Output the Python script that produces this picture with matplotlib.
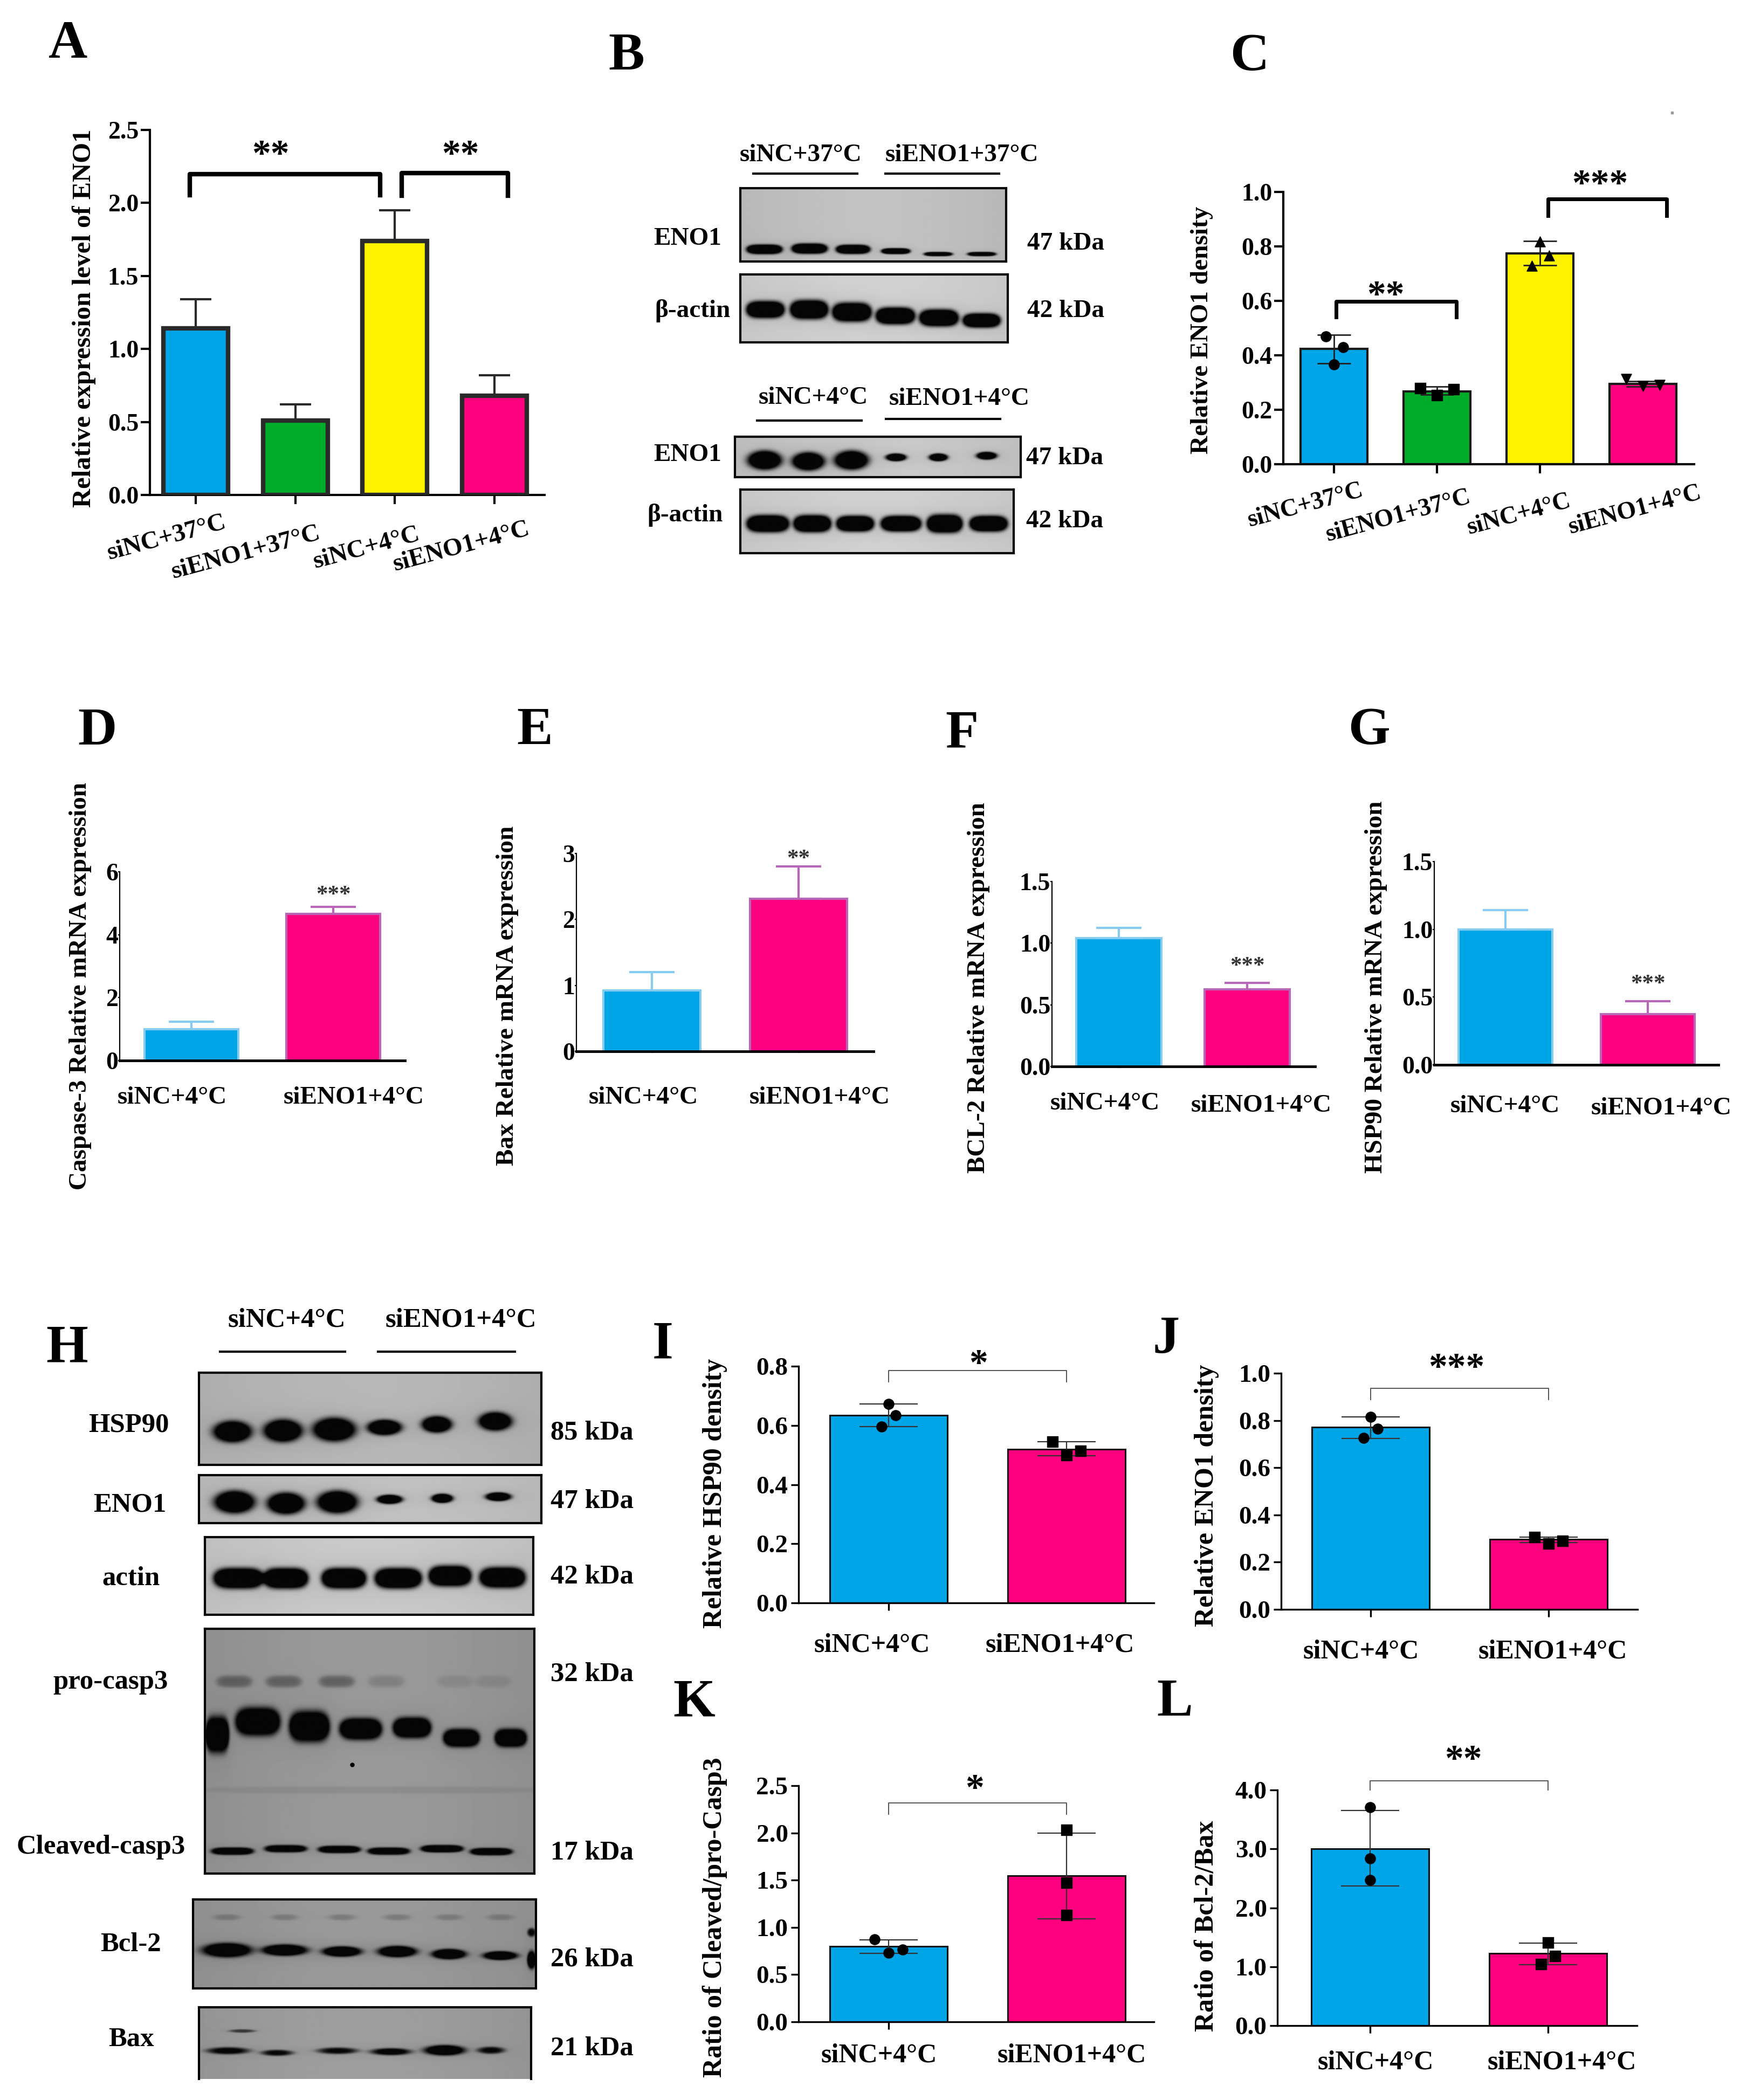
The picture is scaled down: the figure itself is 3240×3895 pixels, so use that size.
import numpy as np
import matplotlib
matplotlib.use('Agg')
import matplotlib.pyplot as plt

W, H = 3241, 3895
plt.rcParams['font.family'] = ['Liberation Serif', 'DejaVu Serif']
plt.rcParams['font.weight'] = 'bold'

BLUE, GREEN, YELLOW, PINK = '#00a5e8', '#00ad2a', '#fff200', '#ff007f'

# bar panels
a_labels = ['siNC+37°C', 'siENO1+37°C', 'siNC+4°C', 'siENO1+4°C']
a_means = [1.14, 0.51, 1.74, 0.68]
a_upper = [1.34, 0.62, 1.95, 0.82]

c_means = [0.423, 0.268, 0.774, 0.295]
c_lower = [0.37, 0.255, 0.73, 0.285]
c_upper = [0.475, 0.285, 0.82, 0.305]
c_points = [[0.47, 0.43, 0.367], [0.28, 0.254, 0.275], [0.818, 0.767, 0.728], [0.312, 0.288, 0.291]]

two_labels = ['siNC+4°C', 'siENO1+4°C']
d_means, d_upper = [1.0, 4.66], [1.23, 4.88]
e_means, e_upper = [0.925, 2.315], [1.2, 2.8]
f_means, f_upper = [1.04, 0.625], [1.126, 0.676]
g_means, g_upper = [1.0, 0.373], [1.14, 0.468]

i_means, i_lower, i_upper = [0.634, 0.52], [0.596, 0.497], [0.673, 0.545]
i_points = [[0.673, 0.634, 0.596], [0.545, 0.50, 0.513]]
j_means, j_lower, j_upper = [0.771, 0.296], [0.723, 0.282], [0.815, 0.307]
j_points = [[0.815, 0.765, 0.725], [0.305, 0.279, 0.29]]
k_means, k_lower, k_upper = [0.80, 1.545], [0.725, 1.09], [0.87, 2.0]
k_points = [[0.872, 0.73, 0.767], [2.03, 1.47, 1.13]]
l_means, l_lower, l_upper = [3.0, 1.224], [2.37, 1.03], [3.65, 1.4]
l_points = [[3.71, 2.84, 2.47], [1.41, 1.18, 1.04]]

# blot bands: lane x, lane y, band width, band height (fractions of the membrane), darkness
b1_x = [.09, .26, .424, .585, .745, .909]
b1_y = [.835, .825, .835, .86, .90, .90]
b1_w = [.136, .136, .13, .11, .11, .11]
b1_h = [.13, .14, .125, .08, .06, .06]
b1_d = [1, 1, 1, .95, .8, .8]
b2_x = [.093, .257, .417, .58, .743, .903]
b2_y = [.517, .517, .555, .61, .64, .678]
b2_w = [.144, .144, .148, .148, .148, .142]
b2_h = [.25, .28, .28, .25, .25, .21]
b3_x = [.103, .256, .407, .563, .711, .88]
b3_y = [.58, .61, .58, .51, .51, .47]
b3_w = [.12, .114, .12, .072, .066, .072]
b3_h = [.47, .45, .47, .19, .19, .19]
b4_x = [.10, .263, .42, .588, .748, .909]
b4_y = [.536] * 6
b4_w = [.157, .139, .139, .149, .132, .141]
b4_h = [.27, .27, .25, .25, .29, .25]

hsp_x = [.097, .245, .395, .542, .695, .866]
hsp_y = [.64, .63, .617, .594, .561, .528]
hsp_w = [.113, .113, .125, .10, .088, .098]
hsp_h = [.233, .244, .256, .167, .178, .2]
eno_x = [.103, .254, .404, .557, .711, .875]
eno_y = [.56, .59, .56, .505, .484, .45]
eno_w = [.119, .11, .119, .075, .063, .075]
eno_h = [.47, .45, .47, .19, .19, .18]
act_x = [.102, .246, .423, .589, .747, .907]
act_y = [.53, .53, .53, .53, .50, .52]
act_w = [.154, .137, .137, .144, .131, .141]
act_h = [.265] * 6
pro_x = [.037, .16, .317, .473, .629, .779, .929]
pro_y = [.433, .38, .40, .41, .405, .447, .447]
pro_w = [.072, .137, .124, .13, .117, .111, .098]
pro_h = [.147, .115, .126, .088, .084, .074, .074]
faint_x = [.089, .239, .40, .55, .76, .875]
faint_d = [.22, .22, .22, .1, .06, .06]
clv_x = [.083, .245, .408, .558, .72, .87]
clv_y = [.91, .90, .903, .91, .90, .912]
clv_d = [.9, .85, .9, .85, .95, .9]
bcl_x = [.098, .267, .434, .596, .747, .897]
bcl_y = [.57, .57, .586, .586, .615, .632]
bcl_w = [.144, .132, .113, .113, .10, .10]
bcl_h = [.16, .126, .115, .126, .115, .098]
bax_x = [.087, .235, .417, .578, .74, .88]
bax_y = [.607, .636, .607, .62, .60, .60]
bax_w = [.129, .097, .123, .123, .123, .084]
bax_h = [.10, .086, .093, .10, .143, .10]
bax_d = [.65, .6, .6, .7, .95, .6]

fig = plt.figure(figsize=(W / 100, H / 100), dpi=100, facecolor='white')

page = fig.add_axes([0, 0, 1, 1], zorder=10)
page.set_xlim(0, W)
page.set_ylim(H, 0)
page.axis('off')


def put(x, y, s, size=30, **kw):
    page.text(x, y, s, fontsize=size, ha=kw.pop('ha', 'center'), va=kw.pop('va', 'center'), **kw)


def make_axes(x0, x1, ytop, y0, c0, sp, top):
    ax = fig.add_axes([x0 / W, 1 - y0 / H, (x1 - x0) / W, (y0 - ytop) / H])
    ax.set_xlim((x0 - c0) / sp, (x1 - c0) / sp)
    ax.set_ylim(0, top)
    ax.patch.set_alpha(0)
    ax.spines[['top', 'right']].set_visible(False)
    return ax


def stars(ax, x, y, s, size=50, color='black'):
    ax.annotate(s, (x, y), xytext=(0, -size * 0.45), textcoords='offset points',
                ha='center', va='baseline', fontsize=size, color=color, annotation_clip=False)


def bracket(ax, x0, x1, top, bottom, lw, color='black'):
    ax.plot([x0, x0, x1, x1], [bottom, top, top, bottom], color=color, lw=lw,
            solid_joinstyle='round', clip_on=False, zorder=6)


def finish(ax, ticks, fmt, size, spine_lw, tick_len, x_lw=None, pad=3):
    ax.set_yticks(ticks)
    ax.set_yticklabels([fmt.format(t) for t in ticks], fontsize=size)
    ax.set_xticks(range(int(round(ax.get_xlim()[1]))))
    ax.set_xticklabels([])
    ax.spines['left'].set_linewidth(spine_lw)
    ax.spines['bottom'].set_linewidth(x_lw or spine_lw)
    ax.tick_params(axis='both', width=spine_lw, length=tick_len, pad=pad)


def blot(box, x, y, w, h, d=None, bg=0.74, extra=None, clip_bottom=False, flat=False):
    x0, x1, y0, y1 = box
    ax = fig.add_axes([x0 / W, 1 - y1 / H, (x1 - x0) / W, (y1 - y0) / H])
    yy, xx = np.mgrid[0:1:300j, 0:1:600j]
    dark = np.zeros_like(xx)
    d = d if d is not None else [1] * len(x)
    groups = [(x, y, w, h, d)] + (extra or [])
    for gx, gy, gw, gh, gd in groups:
        for cx, cy, bw, bh, k in zip(gx, gy, gw, gh, gd):
            dx = (xx - cx) / (bw / 2)
            dy = (yy - cy) / (bh / 2)
            r = (dx ** 4 if flat else dx ** 2) + dy ** 2
            dark += k * (1.6 * np.exp(-r ** 2) + 0.08 * np.exp(-r / 3))
    img = bg + 0.04 * np.sin(np.pi * xx)
    img = img * (1 - np.clip(dark, 0, 1)) + 0.02 * np.clip(dark, 0, 1)
    ax.imshow(img, cmap='gray', vmin=0, vmax=1, aspect='auto', extent=(0, 1, 1, 0), interpolation='bilinear')
    ax.set_xlim(0, 1)
    ax.set_ylim(1, 0)
    ax.set_xticks([])
    ax.set_yticks([])
    for sp in ax.spines.values():
        sp.set_linewidth(3)
    if clip_bottom:
        ax.spines['bottom'].set_visible(False)
    return ax


# panel letters
for x, y, s in [(126, 74, 'A'), (1162, 95, 'B'), (2317, 97, 'C'), (180, 1347, 'D'), (992, 1347, 'E'),
                (1784, 1352, 'F'), (2539, 1347, 'G'), (124, 2492, 'H'), (1229, 2485, 'I'),
                (2163, 2476, 'J'), (1287, 3149, 'K'), (2179, 3149, 'L')]:
    put(x, y + 9, s, size=72)

# A
ax = make_axes(278, 1010, 241, 918, 363, 184.7, 2.5)
ax.bar(range(4), a_means, width=0.65, color=[BLUE, GREEN, YELLOW, PINK], edgecolor='#2a2a2a', linewidth=6, zorder=3)
ax.errorbar(range(4), a_means, yerr=[[0] * 4, np.subtract(a_upper, a_means)], fmt='none',
            ecolor='#2a2a2a', elinewidth=3, capsize=21, capthick=3, zorder=2)
bracket(ax, -0.057, 1.852, 2.197, 2.054, 6)
bracket(ax, 2.07, 3.137, 2.205, 2.05, 6)
stars(ax, 0.75, 2.373, '**')
stars(ax, 2.66, 2.373, '**')
finish(ax, [0, 0.5, 1, 1.5, 2, 2.5], '{:.1f}', 33, 3, 12)
put(156, 590, 'Relative expression level of ENO1', 35, rotation=90)
for x, y, s in zip([309, 456, 680, 856], [998, 1026, 1017, 1015], a_labels):
    put(x, y, s, 34, rotation=15)

# B
blot((1373, 1866, 349, 485), b1_x, b1_y, b1_w, b1_h, b1_d, bg=0.72, flat=True)
blot((1373, 1869, 509, 635), b2_x, b2_y, b2_w, b2_h, bg=0.78, flat=True)
blot((1363, 1893, 810, 885), b3_x, b3_y, b3_w, b3_h, bg=0.75)
blot((1373, 1880, 908, 1026), b4_x, b4_y, b4_w, b4_h, bg=0.78, flat=True)
for x, y, s in [(1275, 443, 'ENO1'), (1285, 577, 'β-actin'), (1977, 452, '47 kDa'), (1977, 577, '42 kDa'),
                (1275, 844, 'ENO1'), (1271, 955, 'β-actin'), (1975, 850, '47 kDa'), (1975, 967, '42 kDa'),
                (1485, 288, 'siNC+37°C'), (1784, 288, 'siENO1+37°C'), (1508, 738, 'siNC+4°C'), (1779, 740, 'siENO1+4°C')]:
    put(x, y, s, 34)
for x0, x1, y in [(1397, 1590, 322), (1642, 1853, 322), (1404, 1598, 780), (1643, 1855, 777)]:
    page.plot([x0, x1], [y, y], color='black', lw=3)

# C
ax = make_axes(2380, 3142, 356, 861, 2474, 191, 1.0)
ax.bar(range(4), c_means, width=0.65, color=[BLUE, GREEN, YELLOW, PINK], edgecolor='#1a1a1a', linewidth=3, zorder=2)
ax.errorbar(range(4), c_means, yerr=[np.subtract(c_means, c_lower), np.subtract(c_upper, c_means)], fmt='none',
            ecolor='#222222', elinewidth=2, capsize=22, capthick=2, zorder=3)
for i, (vals, mk, offs) in enumerate(zip(c_points, ['o', 's', '^', 'v'],
                                         [[-.08, .09, 0], [-.16, 0, .16], [0, .09, -.08], [-.16, 0, .16]])):
    ax.scatter(np.add(i, offs), vals, marker=mk, s=190, color='black', zorder=4, clip_on=False)
bracket(ax, 0.02, 1.19, 0.598, 0.541, 5)
bracket(ax, 2.08, 3.23, 0.975, 0.913, 5)
stars(ax, 0.50, 0.642, '**')
stars(ax, 2.58, 1.05, '***')
finish(ax, [0, .2, .4, .6, .8, 1.0], '{:.1f}', 33, 3, 12)
put(2229, 612, 'Relative ENO1 density', 34, rotation=90)
for x, y, s in zip([2421, 2593, 2817, 3032], [938, 958, 955, 947], a_labels):
    put(x, y, s, 33, rotation=15)
page.plot([3101], [209], marker='s', ms=3, color='#999999')


def small_panel(px, c0, sp, means, upper, ticks, fmt, star, star_s, ylabel, ylab_xy, lab_xy):
    ax = make_axes(*px, c0, sp, ticks[-1])
    ax.bar(range(2), means, width=0.66, color=[BLUE, PINK], edgecolor=['#86ccf2', '#b866b8'], linewidth=3, zorder=2)
    for i, col in enumerate(['#86ccf2', '#b866b8']):
        ax.errorbar([i], [means[i]], yerr=[[0], [upper[i] - means[i]]], fmt='none', ecolor=col,
                    elinewidth=3, capsize=30, capthick=3, zorder=1)
    stars(ax, 1, star, star_s, size=31, color='#333333')
    finish(ax, ticks, fmt, 33, 1.6, 2, x_lw=3.5, pad=0)
    put(*ylab_xy, ylabel, 34, rotation=90)
    for (x, y), s in zip(lab_xy, two_labels):
        put(x, y, s, 34)


small_panel((222, 751, 1617, 1967), 355, 263, d_means, d_upper, [0, 2, 4, 6], '{:d}', 5.4, '***',
            'Caspase-3 Relative mRNA expression', (149, 1829), [(319, 2036), (656, 2036)])
small_panel((1069, 1620, 1583, 1950), 1209, 272, e_means, e_upper, [0, 1, 2, 3], '{:d}', 2.99, '**',
            'Bax Relative mRNA expression', (941, 1847), [(1193, 2036), (1520, 2036)])
small_panel((1951, 2439, 1635, 1978), 2075, 238, f_means, f_upper, [0, .5, 1.0, 1.5], '{:.1f}', 0.85, '***',
            'BCL-2 Relative mRNA expression', (1815, 1832), [(2049, 2047), (2339, 2051)])
small_panel((2660, 3187, 1598, 1975), 2792, 264, g_means, g_upper, [0, .5, 1.0, 1.5], '{:.1f}', 0.63, '***',
            'HSP90 Relative mRNA expression', (2552, 1831), [(2791, 2052), (3081, 2056)])


# H
blot((369, 1004, 2546, 2717), hsp_x, hsp_y, hsp_w, hsp_h, bg=0.68)
blot((369, 1004, 2736, 2825), eno_x, eno_y, eno_w, eno_h, bg=0.72)
blot((380, 989, 2851, 2995), act_x, act_y, act_w, act_h, bg=0.75, flat=True)
ax = blot((380, 991, 3021, 3475), pro_x, pro_y, pro_w, pro_h, bg=0.56, flat=True,
          extra=[(faint_x, [.216] * 6, [.11] * 6, [.05] * 6, faint_d),
                 (clv_x, clv_y, [.13] * 6, [.03] * 6, clv_d),
                 ([.5], [.66], [1.1], [.03], [.05])])
ax.plot([.447], [.555], marker='o', ms=5, color='black')
blot((358, 994, 3523, 3688), bcl_x, bcl_y, bcl_w, bcl_h, bg=0.56,
     extra=[(bcl_x, [.2] * 6, [.08] * 6, [.07] * 6, [.12] * 6),
            ([.988, .988], [.37, .68], [.025, .025], [.1, .2], [.6, 1])])
blot((369, 985, 3723, 3856), bax_x, bax_y, bax_w, bax_h, bax_d, bg=0.58, clip_bottom=True,
     extra=[([.13], [.33], [.08], [.05], [.4])])
for x, y, s in [(239, 2643, 'HSP90'), (241, 2791, 'ENO1'), (243, 2927, 'actin'), (205, 3120, 'pro-casp3'),
                (187, 3426, 'Cleaved-casp3'), (243, 3607, 'Bcl-2'), (243, 3782, 'Bax'),
                (1098, 2657, '85 kDa'), (1098, 2784, '47 kDa'), (1098, 2924, '42 kDa'), (1098, 3105, '32 kDa'),
                (1098, 3436, '17 kDa'), (1098, 3634, '26 kDa'), (1098, 3799, '21 kDa'),
                (532, 2448, 'siNC+4°C'), (855, 2448, 'siENO1+4°C')]:
    put(x, y, s, 36.5)
for x0, x1 in [(408, 640), (701, 955)]:
    page.plot([x0, x1], [2507, 2507], color='black', lw=3)


def dot_panel(px, c0, means, lower, upper, points, offs, marks, ticks, br, star_xy, star_s, ylabel, ylab_xy, lab_xy):
    ax = make_axes(*px, c0, 330, ticks[-1])
    ax.bar(range(2), means, width=0.66, color=[BLUE, PINK], edgecolor='#111111', linewidth=2.2, zorder=2)
    ax.errorbar(range(2), means, yerr=[np.subtract(means, lower), np.subtract(upper, means)], fmt='none',
                ecolor='#333333', elinewidth=1.6, capsize=39, capthick=1.6, zorder=3)
    for i in range(2):
        ax.scatter(np.add(i, offs[i]), points[i], marker=marks[i], s=190, color='black', zorder=4, clip_on=False)
    bracket(ax, 0, 1, br[0], br[1], 1.4, color='#555555')
    stars(ax, star_xy[0], star_xy[1], star_s)
    finish(ax, ticks, '{:.1f}', 34, 2.4, 10, pad=4)
    put(*ylab_xy, ylabel, 36, rotation=90)
    for (x, y), s in zip(lab_xy, two_labels):
        put(x, y, s, 36)


dot_panel((1481, 2140, 2534, 2973), 1648, i_means, i_lower, i_upper, i_points,
          [[0, .04, -.04], [-.08, 0, .08]], ['o', 's'], [0, .2, .4, .6, .8], (.785, .748), (.506, .827), '*',
          'Relative HSP90 density', (1326, 2770), [(1617, 3051), (1966, 3051)])
dot_panel((2376, 3037, 2547, 2985), 2542, j_means, j_lower, j_upper, j_points,
          [[0, .04, -.04], [-.08, 0, .08]], ['o', 's'], [0, .2, .4, .6, .8, 1.0], (.937, .889), (.482, 1.048), '***',
          'Relative ENO1 density', (2238, 2774), [(2524, 3063), (2880, 3063)])
dot_panel((1481, 2140, 3312, 3750), 1648, k_means, k_lower, k_upper, k_points,
          [[-.08, 0, .08], [0, 0, 0]], ['o', 's'], [0, .5, 1.0, 1.5, 2.0, 2.5], (2.316, 2.195), (.482, 2.53), '*',
          'Ratio of Cleaved/pro-Casp3', (1326, 3556), [(1630, 3812), (1988, 3812)])
dot_panel((2369, 3036, 3320, 3757), 2541, l_means, l_lower, l_upper, l_points,
          [[0, 0, 0], [0, .04, -.04]], ['o', 's'], [0, 1.0, 2.0, 3.0, 4.0], (4.16, 4.0), (.525, 4.62), '**',
          'Ratio of Bcl-2/Bax', (2238, 3572), [(2551, 3825), (2897, 3825)])

fig.savefig('out.png', dpi=100, facecolor='white')
